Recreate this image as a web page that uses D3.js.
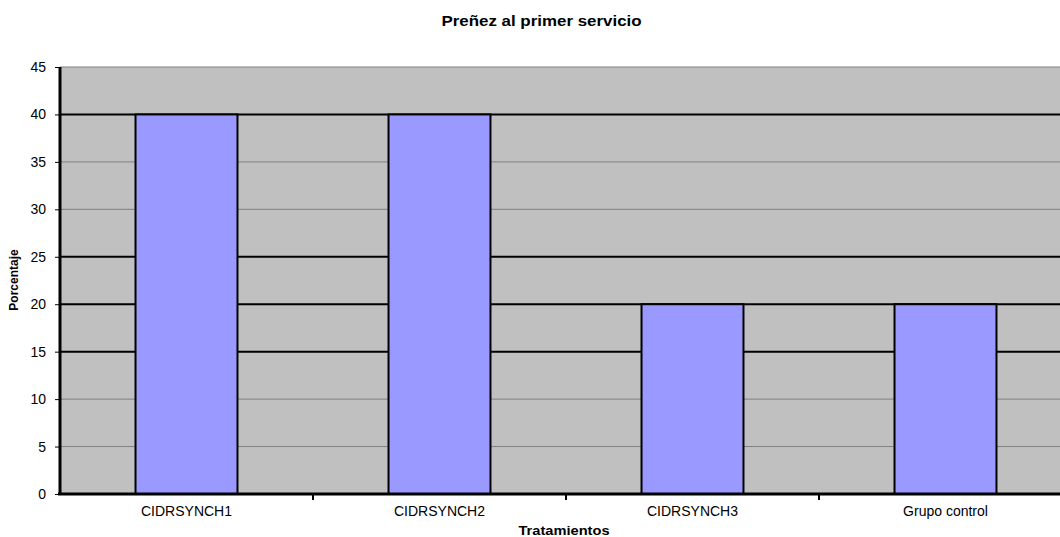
<!DOCTYPE html>
<html><head><meta charset="utf-8">
<script src="https://cdn.jsdelivr.net/npm/d3@7"></script>
<style>body{margin:0;background:#fff;}svg{display:block;font-family:"Liberation Sans",Arial,sans-serif;}</style>
</head><body>
<script>
const categories = ["CIDRSYNCH1", "CIDRSYNCH2", "CIDRSYNCH3", "Grupo control"];
const values = [40, 40, 20, 20];
const yTicks = [0, 5, 10, 15, 20, 25, 30, 35, 40, 45];
const title = "Preñez al primer servicio";
const xTitle = "Tratamientos";
const yTitle = "Porcentaje";

const W = 1060, H = 537;
const pL = 60, pR = 1072, pT = 67, pB = 494;
const darkGrid = new Set([15, 20, 25, 40]);

const svg = d3.select("body").append("svg").attr("width", W).attr("height", H);

const x = d3.scaleBand().domain(categories).range([pL, pR]).paddingInner(0.597).paddingOuter(0.2985);
const y = d3.scaleLinear().domain([0, 45]).range([pB, pT]);

svg.append("rect").attr("x", pL).attr("y", pT).attr("width", W - pL).attr("height", pB - pT).attr("fill", "#c0c0c0");

svg.append("g").selectAll("line").data(yTicks.filter(d => d > 0)).join("line")
  .attr("x1", pL).attr("x2", W)
  .attr("y1", d => y(d)).attr("y2", d => y(d))
  .attr("stroke", d => darkGrid.has(d) ? "#000" : "#808080")
  .attr("stroke-width", d => darkGrid.has(d) ? 2 : 1);

svg.append("g").selectAll("rect").data(values).join("rect")
  .attr("x", (d, i) => x(categories[i]))
  .attr("y", d => y(d))
  .attr("width", x.bandwidth())
  .attr("height", d => pB - y(d))
  .attr("fill", "#9999ff")
  .attr("stroke", "#000").attr("stroke-width", 2);

// Y axis
const ya = svg.append("g").attr("transform", `translate(${pL},0)`)
  .call(d3.axisLeft(y).tickValues(yTicks).tickSize(5).tickPadding(9).tickFormat(d3.format("d")));
ya.select(".domain").attr("stroke", "#000").attr("stroke-width", 3).attr("d", `M0,${pT}V${pB}`);
ya.selectAll(".tick line").attr("stroke", "#000");
ya.selectAll("text").attr("font-size", 14).attr("font-family", "Liberation Sans, Arial, sans-serif").attr("fill", "#000");

// X axis
const xa = svg.append("g").attr("transform", `translate(0,${pB})`)
  .call(d3.axisBottom(x).tickSize(0).tickPadding(12));
xa.select(".domain").attr("stroke", "#000").attr("stroke-width", 3).attr("d", `M${pL - 2},0H${W}`);
xa.selectAll("text").attr("font-size", 14).attr("font-family", "Liberation Sans, Arial, sans-serif").attr("fill", "#000");
// category boundary ticks
svg.append("g").selectAll("line").data(categories.slice(1)).join("line")
  .attr("x1", d => x(d) - x.step() * x.paddingOuter()).attr("x2", d => x(d) - x.step() * x.paddingOuter())
  .attr("y1", pB).attr("y2", pB + 6).attr("stroke", "#000").attr("stroke-width", 2);

svg.append("text").attr("transform", "translate(541.5,25.5) scale(1.21,1)").attr("text-anchor", "middle")
  .attr("font-size", 14).attr("font-weight", "bold").text(title);
svg.append("text").attr("transform", "translate(564,535) scale(1.22,1)").attr("text-anchor", "middle")
  .attr("font-size", 12).attr("font-weight", "bold").text(xTitle);
svg.append("text").attr("transform", "translate(18,280) rotate(-90)").attr("text-anchor", "middle")
  .attr("font-size", 12).attr("font-weight", "bold").text(yTitle);
</script>
</body></html>
